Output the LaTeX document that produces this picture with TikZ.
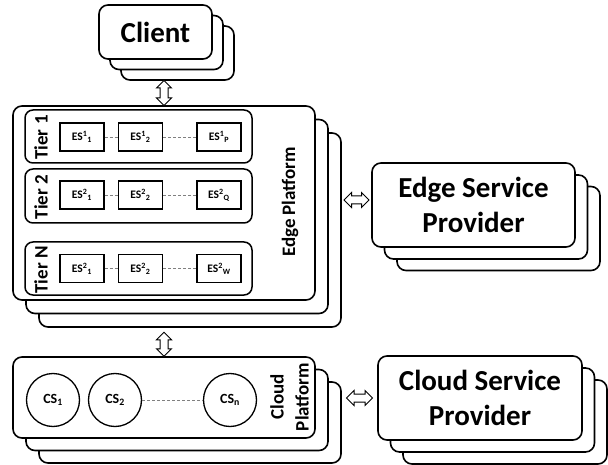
\documentclass[tikz,border=0pt]{standalone}
\usepackage{fontspec}
\setmainfont{Carlito}
\usetikzlibrary{shapes.arrows}
\begin{document}
\begin{tikzpicture}[x=1pt,y=-1pt,
  box/.style={draw, line width=1.6pt, rounded corners=9pt, fill=white, inner sep=0pt},
  tierbox/.style={draw, line width=1.5pt, rounded corners=8pt, minimum width=227pt, inner sep=0pt},
  esbox/.style={draw, line width=1.3pt, minimum width=44pt, minimum height=28pt, inner sep=0pt, font=\bfseries\fontsize{11.5}{12}\selectfont},
  csnode/.style={circle, draw, line width=1.3pt, minimum size=53pt, inner sep=0pt, font=\bfseries\fontsize{14}{15}\selectfont},
  link/.style={densely dashed, gray, line width=0.7pt},
  dbl/.style={double arrow, draw, fill=white, line width=1pt, text width=0pt, text height=0pt, text depth=0pt, inner xsep=0pt, inner ysep=3.5pt, double arrow head extend=3.5pt},
  midfont/.style={font=\bfseries\fontsize{19}{25}\selectfont},
  bigfont/.style={font=\bfseries\fontsize{29}{35}\selectfont}]
\useasboundingbox (0,0) rectangle (608,465);

% Client stack
\node[box, minimum width=113pt, minimum height=54pt] (c3) at (177.5,53) {};
\node[box, minimum width=113pt, minimum height=54pt] (c2) at (166.5,42.5) {};
\node[box, minimum width=113pt, minimum height=54pt, bigfont] (c1) at (155.5,32) {Client};

% Edge platform stack
\node[box, minimum width=302pt, minimum height=194pt] (ep3) at (190,230) {};
\node[box, minimum width=302pt, minimum height=194pt] (ep2) at (177,216.5) {};
\node[box, minimum width=302pt, minimum height=194pt] (ep1) at (164,203) {};
\node[midfont, rotate=90] (eplabel) at (290,202) {Edge Platform};

% Tiers
\node[tierbox, minimum height=53pt] (t1) at (138.5,136.5) {};
\node[tierbox, minimum height=54pt] (t2) at (138.5,196) {};
\node[tierbox, minimum height=53pt] (tn) at (138.5,268.5) {};
\node[midfont, rotate=90] (t1label) at (41,137.5) {Tier 1};
\node[midfont, rotate=90] (t2label) at (41,197) {Tier 2};
\node[midfont, rotate=90] (tnlabel) at (41,270) {Tier N};

\node[esbox] (e11) at (82,137) {ES\textsuperscript{1}\textsubscript{1}};
\node[esbox] (e12) at (140.5,137) {ES\textsuperscript{1}\textsubscript{2}};
\node[esbox] (e1p) at (219,137) {ES\textsuperscript{1}\textsubscript{P}};
\node[esbox] (e21) at (82,195) {ES\textsuperscript{2}\textsubscript{1}};
\node[esbox] (e22) at (140.5,195) {ES\textsuperscript{2}\textsubscript{2}};
\node[esbox] (e2q) at (219,195) {ES\textsuperscript{2}\textsubscript{Q}};
\node[esbox] (en1) at (82,268.5) {ES\textsuperscript{2}\textsubscript{1}};
\node[esbox] (en2) at (140.5,268.5) {ES\textsuperscript{2}\textsubscript{2}};
\node[esbox] (enw) at (219,268.5) {ES\textsuperscript{2}\textsubscript{W}};
\draw[link] (e11) -- (e12);
\draw[link] (e12) -- (e1p);
\draw[link] (e21) -- (e22);
\draw[link] (e22) -- (e2q);
\draw[link] (en1) -- (en2);
\draw[link] (en2) -- (enw);

% Cloud platform stack
\node[box, minimum width=302pt, minimum height=81pt] (cp3) at (190,422.5) {};
\node[box, minimum width=302pt, minimum height=81pt] (cp2) at (177,410) {};
\node[box, minimum width=302pt, minimum height=81pt] (cp1) at (164,397.5) {};
\node[csnode] (cs1) at (53,400) {CS\textsubscript{1}};
\node[csnode] (cs2) at (115,400) {CS\textsubscript{2}};
\node[csnode] (csn) at (230,400) {CS\textsubscript{n}};
\draw[link] (cs2) -- (csn);
\node[midfont, rotate=90, align=center] (cplabel) at (289.5,397) {Cloud\\Platform};

% Edge service provider stack
\node[box, minimum width=203pt, minimum height=84pt] (e3) at (498.5,228.5) {};
\node[box, minimum width=203pt, minimum height=84pt] (e2) at (486,217) {};
\node[box, minimum width=203pt, minimum height=84pt, bigfont, align=center] (e1) at (473.5,205) {Edge Service\\Provider};

% Cloud service provider stack
\node[box, minimum width=204pt, minimum height=84pt] (s3) at (505,422) {};
\node[box, minimum width=204pt, minimum height=84pt] (s2) at (492.5,410) {};
\node[box, minimum width=204pt, minimum height=84pt, bigfont, align=center] (s1) at (480,398) {Cloud Service\\Provider};

% Block double arrows
\path (c3.south -| ep1.north) -- node[dbl, sloped, minimum height=25pt] (a1) {} (ep1.north);
\path (ep3.south -| cp1.north) -- node[dbl, sloped, pos=0.58, minimum height=24pt] (a2) {} (cp1.north);
\path ([yshift=5pt]e1.west -| ep3.east) -- node[dbl, sloped, minimum height=25pt] (a3) {} ([yshift=5pt]e1.west);
\path (s1.west -| cp3.east) -- node[dbl, sloped, minimum height=26pt] (a4) {} (s1.west);
\end{tikzpicture}
\end{document}
